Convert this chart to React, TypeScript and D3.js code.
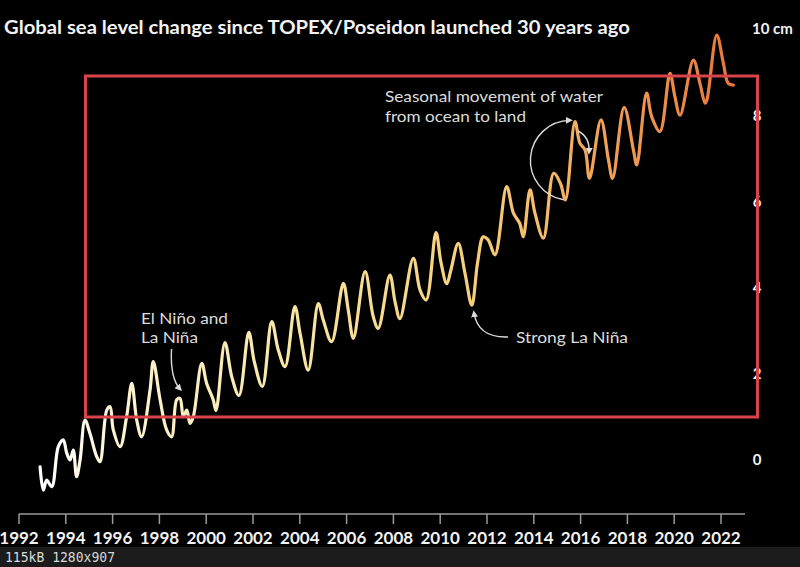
import React from "react";
import * as d3 from "d3";

const years = [
  1992.9, 1993.04, 1993.18, 1993.4, 1993.68, 1993.89, 1994.04, 1994.18, 1994.32, 1994.46,
  1994.61, 1994.82, 1995.03, 1995.32, 1995.46, 1995.75, 1995.89, 1996.03, 1996.32, 1996.6,
  1996.82, 1997.03, 1997.24, 1997.6, 1997.74, 1998.03, 1998.31, 1998.52, 1998.74, 1998.88,
  1999.02, 1999.17, 1999.31, 1999.45, 1999.81, 2000.02, 2000.3, 2000.42, 2000.8, 2001.09,
  2001.4, 2001.82, 2002.05, 2002.4, 2002.8, 2003.08, 2003.37, 2003.79, 2004.01, 2004.36,
  2004.79, 2005.0, 2005.36, 2005.86, 2006.07, 2006.29, 2006.79, 2007.14, 2007.35, 2007.85,
  2008.07, 2008.28, 2008.85, 2009.14, 2009.4, 2009.82, 2010.03, 2010.28, 2010.45, 2010.77,
  2011.06, 2011.35, 2011.6, 2011.84, 2012.05, 2012.34, 2012.84, 2013.13, 2013.4, 2013.55,
  2013.84, 2014.05, 2014.41, 2014.85, 2015.14, 2015.35, 2015.76, 2015.97, 2016.19, 2016.38,
  2016.87, 2017.19, 2017.37, 2017.86, 2018.26, 2018.4, 2018.82, 2019.04, 2019.39, 2019.82,
  2020.03, 2020.25, 2020.82, 2021.1, 2021.32, 2021.4, 2021.82, 2022.1, 2022.31, 2022.53,
];

const seaLevelCm = [
  -0.16, -0.7, -0.47, -0.62, 0.31, 0.47, 0.16, 0.0, 0.23, -0.39,
  0.0, 0.93, 0.62, 0.08, -0.04, 1.16, 1.24, 0.7, 0.31, 1.01,
  1.78, 0.93, 0.54, 1.63, 2.29, 1.4, 0.7, 0.54, 1.4, 1.43,
  1.01, 1.16, 0.85, 1.01, 2.25, 1.78, 1.4, 1.15, 2.73, 1.94,
  1.5, 2.97, 2.3, 1.71, 3.22, 2.56, 2.17, 3.57, 2.95, 2.09,
  3.64, 3.26, 2.75, 4.11, 3.49, 2.83, 4.38, 3.33, 3.06, 4.3,
  3.68, 3.29, 4.69, 3.95, 3.72, 5.29, 4.6, 4.1, 4.4, 5.04,
  4.34, 3.6, 4.6, 5.19, 5.12, 4.77, 6.36, 5.74, 5.5, 5.19,
  6.28, 5.74, 5.16, 6.67, 6.43, 6.05, 7.87, 7.37, 7.21, 6.55,
  7.91, 6.98, 6.55, 8.2, 7.2, 6.86, 8.53, 7.98, 7.64, 8.99,
  8.45, 8.02, 9.3, 8.76, 8.3, 8.38, 9.88, 9.23, 8.76, 8.72,
];

const xTicks = [1992, 1994, 1996, 1998, 2000, 2002, 2004, 2006, 2008, 2010, 2012, 2014, 2016, 2018, 2020, 2022];
const yTicks = [0, 2, 4, 6, 8];
const yTopLabel = "10 cm";
const title = "Global sea level change since TOPEX/Poseidon launched 30 years ago";

const gradientStops = [
  { offset: 0, color: "#ffffff" },
  { offset: 0.1, color: "#fdf4d6" },
  { offset: 0.35, color: "#f9e6a6" },
  { offset: 0.6, color: "#f6d27e" },
  { offset: 0.72, color: "#f4bd6c" },
  { offset: 0.8, color: "#f2a35a" },
  { offset: 1, color: "#e8763c" },
];

const W = 800;
const H = 567;
const FONT = "Lato, 'Noto Sans', sans-serif";

export default function App() {
  const x = d3.scaleLinear().domain([1992, 2022]).range([19, 721]);
  const y = d3.scaleLinear().domain([0, 10]).range([460, 30]);
  const data = years.map((yr, i) => ({ yr, v: seaLevelCm[i] }));
  const line = d3
    .line<{ yr: number; v: number }>()
    .x((d) => x(d.yr))
    .y((d) => y(d.v))
    .curve(d3.curveCatmullRom.alpha(0.5));

  const axisY = 514;
  const annColor = "#dcdcdc";

  return (
    <svg
      width={W}
      height={H}
      style={{ position: "fixed", left: 0, top: 0, background: "#000" }}
    >
      <defs>
        <linearGradient
          id="lineGrad"
          gradientUnits="userSpaceOnUse"
          x1={x(1993)}
          x2={x(2022.5)}
          y1={0}
          y2={0}
        >
          {gradientStops.map((s) => (
            <stop key={s.offset} offset={s.offset} stopColor={s.color} />
          ))}
        </linearGradient>
        <marker
          id="ah"
          viewBox="0 0 10 10"
          refX="6"
          refY="5"
          markerWidth="7"
          markerHeight="7"
          orient="auto"
          markerUnits="userSpaceOnUse"
        >
          <path d="M0,0 L10,5 L0,10 Z" fill={annColor} />
        </marker>
      </defs>
      <rect x={0} y={0} width={W} height={H} fill="#000" />

      {/* Title */}
      <text
        x={4}
        y={34}
        fill="#f2f2f2"
        fontFamily={FONT}
        fontWeight={700}
        fontSize={19}
        textLength={626}
        lengthAdjust="spacingAndGlyphs"
      >
        {title}
      </text>
      <text x={752} y={34} fill="#f2f2f2" fontFamily={FONT} fontWeight={700} fontSize={15}>
        {yTopLabel}
      </text>

      {/* Y labels */}
      {yTicks.map((t) => (
        <text
          key={t}
          x={757}
          y={y(t)}
          dy="0.35em"
          textAnchor="middle"
          fill="#f2f2f2"
          fontFamily={FONT}
          fontWeight={700}
          fontSize={15}
        >
          {t}
        </text>
      ))}

      {/* X axis */}
      <line x1={x(1992)} x2={745} y1={axisY} y2={axisY} stroke="#9a9a9a" strokeWidth={1.5} />
      {xTicks.map((t) => (
        <g key={t}>
          <line x1={x(t)} x2={x(t)} y1={axisY} y2={axisY + 10} stroke="#9a9a9a" strokeWidth={1.5} />
          <text
            x={x(t)}
            y={544}
            textAnchor="middle"
            fill="#f2f2f2"
            fontFamily={FONT}
            fontWeight={700}
            fontSize={17}
          >
            {t}
          </text>
        </g>
      ))}

      {/* Data line */}
      <path
        d={line(data) || ""}
        fill="none"
        stroke="url(#lineGrad)"
        strokeWidth={3.2}
        strokeLinejoin="round"
        strokeLinecap="round"
      />

      {/* Annotations */}
      <g fontFamily={FONT} fontSize={16} fill={annColor}>
        <text x={141} y={324} textLength={87} lengthAdjust="spacingAndGlyphs">El Niño and</text>
        <text x={141} y={343} textLength={57} lengthAdjust="spacingAndGlyphs">La Niña</text>
        <text x={516} y={343} textLength={112} lengthAdjust="spacingAndGlyphs">Strong La Niña</text>
        <text x={385} y={102} textLength={218} lengthAdjust="spacingAndGlyphs">Seasonal movement of water</text>
        <text x={385} y={122} textLength={141} lengthAdjust="spacingAndGlyphs">from ocean to land</text>
      </g>
      <g fill="none" stroke={annColor} strokeWidth={1.4}>
        <path d="M171.5,349 Q170,378 180,389" markerEnd="url(#ah)" />
        <path d="M508,337 Q478,338 474,313" markerEnd="url(#ah)" />
        <path d="M563.5,199.8 A40,40 0 0 1 570,120.4" markerEnd="url(#ah)" />
        <path d="M578,131 Q590,137 589,152" markerEnd="url(#ah)" />
      </g>

      {/* Red highlight box */}
      <rect x={85.5} y={76} width={672} height={341} fill="none" stroke="#d9434a" strokeWidth={3} />

      {/* Bottom info bar */}
      <rect x={0} y={547} width={W} height={20} fill="#1b1b1b" />
      <text
        x={5}
        y={562}
        fill="#d8d8d8"
        fontFamily="'DejaVu Sans Mono', monospace"
        fontSize={14}
        textLength={110}
        lengthAdjust="spacingAndGlyphs"
      >
        115kB 1280x907
      </text>
    </svg>
  );
}
